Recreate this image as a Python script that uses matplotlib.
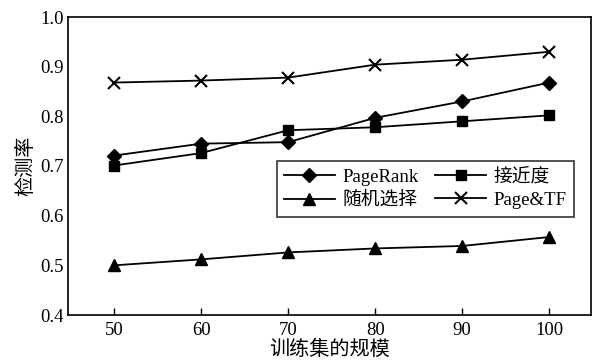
import matplotlib
matplotlib.use("Agg")
import matplotlib.pyplot as plt

plt.rcParams['font.family'] = ['Liberation Serif', 'Noto Sans CJK SC']

sizes = [50, 60, 70, 80, 90, 100]
pagerank = [0.721, 0.745, 0.748, 0.797, 0.830, 0.868]
closeness = [0.701, 0.726, 0.772, 0.778, 0.790, 0.802]
random_sel = [0.500, 0.512, 0.526, 0.534, 0.539, 0.557]
page_tf = [0.868, 0.872, 0.878, 0.904, 0.914, 0.930]

labels = ['PageRank', '接近度', '随机选择', 'Page&TF']
xlabel = '训练集的规模'
ylabel = '检测率'
yticks = [0.4, 0.5, 0.6, 0.7, 0.8, 0.9, 1.0]

fig = plt.figure(figsize=(5.94, 3.61), dpi=100)
ax = fig.add_axes([68/594, 1-315/361, (591-68)/594, (315-17)/361])

kw = dict(color='black', lw=1.3)
h_pr, = ax.plot(sizes, pagerank, marker='D', ms=7, label=labels[0], **kw)
h_cl, = ax.plot(sizes, closeness, marker='s', ms=7.5, label=labels[1], **kw)
h_rs, = ax.plot(sizes, random_sel, marker='^', ms=9, label=labels[2], **kw)
h_tf, = ax.plot(sizes, page_tf, marker='x', ms=8, mew=1.5, label=labels[3], **kw)

ax.set_xlim(44.7, 104.8)
ax.set_ylim(0.4, 1.0)
ax.set_xticks(sizes)
ax.set_yticks(yticks)
ax.set_yticklabels([f'{v:.1f}' for v in yticks])
ax.tick_params(axis='x', direction='in', length=5, width=1, labelsize=13.5, pad=5)
ax.tick_params(axis='y', length=0, labelsize=13.5, pad=3)
for s in ax.spines.values():
    s.set_linewidth(1.2)

ax.set_xlabel(xlabel, fontsize=14.5, labelpad=1)
ax.set_ylabel(ylabel, fontsize=14.5, labelpad=3)

leg = ax.legend([h_pr, h_rs, h_cl, h_tf], [labels[0], labels[2], labels[1], labels[3]],
                ncol=2, loc='lower right', bbox_to_anchor=(0.9675, 0.33),
                fontsize=13.5, frameon=True, fancybox=False, edgecolor='black',
                handlelength=2.7, handletextpad=0.4, columnspacing=0.9,
                labelspacing=0.3, borderpad=0.4, borderaxespad=0)
leg.get_frame().set_linewidth(1.2)

fig.savefig('out.png', dpi=100)
